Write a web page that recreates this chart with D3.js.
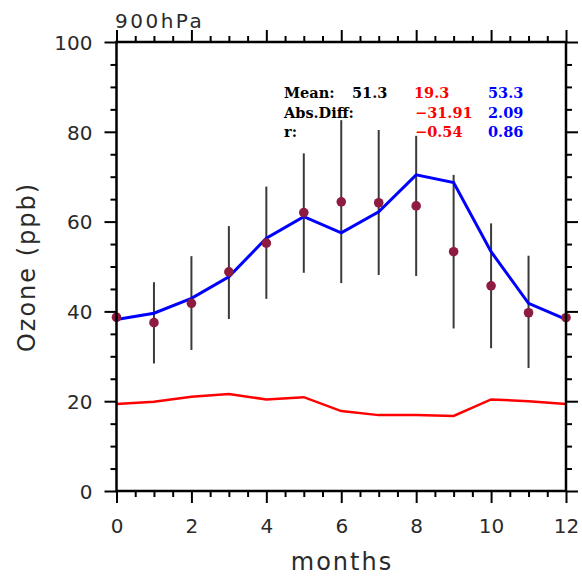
<!DOCTYPE html>
<html><head><meta charset="utf-8">
<script src="https://cdn.jsdelivr.net/npm/d3@7"></script>
<style>body{margin:0;background:#fff}svg{display:block}</style>
</head><body>
<svg id="c" width="582" height="576"></svg>
<script>
const months = [0,1,2,3,4,5,6,7,8,9,10,11,12];
const obs = [38.7,37.5,41.8,48.8,55.2,62.0,64.4,64.2,63.5,53.3,45.7,39.7,38.6];
const obsHi = [null,46.5,52.3,59.0,67.8,75.2,82.6,80.4,79.1,70.4,59.6,52.4,null];
const obsLo = [null,28.4,31.4,38.3,42.8,48.6,46.3,48.1,47.9,36.2,31.8,27.4,null];
const modelBlue = [38.2,39.6,42.9,47.7,56.3,61.1,57.5,62.2,70.4,68.7,53.3,41.8,38.2];
const modelRed = [19.4,19.9,21.0,21.6,20.4,20.9,17.8,16.9,16.9,16.7,20.4,20.0,19.4];
const xTicks = [0,2,4,6,8,10,12];
const yTicks = [0,20,40,60,80,100];
const statsRows = [
  {label:"Mean:", obs:"51.3", red:"19.3", blue:"53.3"},
  {label:"Abs.Diff:", obs:"", red:"\u221231.91", blue:"2.09"},
  {label:"r:", obs:"", red:"\u22120.54", blue:"0.86"}
];
const title = "900hPa";

const svg = d3.select("#c");
const L=116.5, R=566, T=42, B=491;
const x = d3.scaleLinear().domain([0,12]).range([L,R]);
const y = d3.scaleLinear().domain([0,100]).range([B,T]);
const font = "'DejaVu Sans', Verdana, sans-serif";
const txtCol = "#2a2a2a";

const xMinor = d3.range(0,12.01,0.5).filter(v=>v%2!==0);
const yMinor = d3.range(0,100.01,5).filter(v=>v%20!==0);

function axisStyle(g){ g.select(".domain").remove(); g.selectAll("line").attr("stroke","#000").attr("stroke-width",2); }

svg.append("g").attr("transform",`translate(0,${B})`)
  .call(d3.axisBottom(x).tickValues(xTicks).tickSize(12).tickFormat(d3.format("d")))
  .call(axisStyle)
  .call(g=>g.selectAll("text").attr("font-family",font).attr("font-size",20).attr("fill",txtCol).attr("y",42).attr("dy",0));
svg.append("g").attr("transform",`translate(0,${B})`)
  .call(d3.axisBottom(x).tickValues(xMinor).tickSize(6).tickFormat("")).call(axisStyle);
svg.append("g").attr("transform",`translate(0,${T})`)
  .call(d3.axisTop(x).tickValues(xTicks).tickSize(12).tickFormat("")).call(axisStyle);
svg.append("g").attr("transform",`translate(0,${T})`)
  .call(d3.axisTop(x).tickValues(xMinor).tickSize(6).tickFormat("")).call(axisStyle);

svg.append("g").attr("transform",`translate(${L},0)`)
  .call(d3.axisLeft(y).tickValues(yTicks).tickSize(12).tickFormat(d3.format("d")))
  .call(axisStyle)
  .call(g=>g.selectAll("text").attr("font-family",font).attr("font-size",20).attr("fill",txtCol).attr("x",-24).attr("dy","0.36em"));
svg.append("g").attr("transform",`translate(${L},0)`)
  .call(d3.axisLeft(y).tickValues(yMinor).tickSize(6).tickFormat("")).call(axisStyle);
svg.append("g").attr("transform",`translate(${R},0)`)
  .call(d3.axisRight(y).tickValues(yTicks).tickSize(12).tickFormat("")).call(axisStyle);
svg.append("g").attr("transform",`translate(${R},0)`)
  .call(d3.axisRight(y).tickValues(yMinor).tickSize(6).tickFormat("")).call(axisStyle);

// error bars
const bars = months.map((m,i)=>({m,hi:obsHi[i],lo:obsLo[i]})).filter(d=>d.hi!==null);
svg.append("g").selectAll("line").data(bars).join("line")
  .attr("x1",d=>x(d.m)).attr("x2",d=>x(d.m))
  .attr("y1",d=>y(d.hi)).attr("y2",d=>y(d.lo))
  .attr("stroke","#3a3a3a").attr("stroke-width",2);

// lines
const line = d3.line().x((d,i)=>x(months[i])).y(d=>y(d));
svg.append("path").datum(modelRed).attr("d",line).attr("fill","none").attr("stroke","#ff0000").attr("stroke-width",2.5);
svg.append("path").datum(modelBlue).attr("d",line).attr("fill","none").attr("stroke","#0000ff").attr("stroke-width",3);

// dots
svg.append("g").selectAll("circle").data(obs).join("circle")
  .attr("cx",(d,i)=>x(months[i])).attr("cy",d=>y(d)).attr("r",4.8).attr("fill","#8e1c40");

// frame
svg.append("rect").attr("x",L).attr("y",T).attr("width",R-L).attr("height",B-T)
  .attr("fill","none").attr("stroke","#000").attr("stroke-width",2.5);

// title
svg.append("text").attr("x",115).attr("y",28).attr("font-family",font).attr("font-size",20)
  .attr("letter-spacing",2.5).attr("fill",txtCol).text(title);

// axis titles
svg.append("text").attr("x",342).attr("y",570).attr("text-anchor","middle")
  .attr("font-family",font).attr("font-size",24).attr("letter-spacing",2).attr("fill",txtCol).text("months");
svg.append("text").attr("transform","translate(35,267) rotate(-90)").attr("text-anchor","middle")
  .attr("font-family",font).attr("font-size",24).attr("letter-spacing",2).attr("fill",txtCol).text("Ozone (ppb)");

// stats
const sf = "'DejaVu Serif','Liberation Serif',serif";
const sg = svg.append("g").attr("font-family",sf).attr("font-weight","bold").attr("font-size",14.5);
statsRows.forEach((r,i)=>{
  const yy = 98 + i*19.5;
  sg.append("text").attr("x",284).attr("y",yy).attr("fill","#000").text(r.label);
  sg.append("text").attr("x",352).attr("y",yy).attr("fill","#000").text(r.obs);
  sg.append("text").attr("x",r.red.startsWith("\u2212")?415:414).attr("y",yy).attr("fill","#ff0000").text(r.red);
  sg.append("text").attr("x",488).attr("y",yy).attr("fill","#0000ff").text(r.blue);
});
</script>
</body></html>
